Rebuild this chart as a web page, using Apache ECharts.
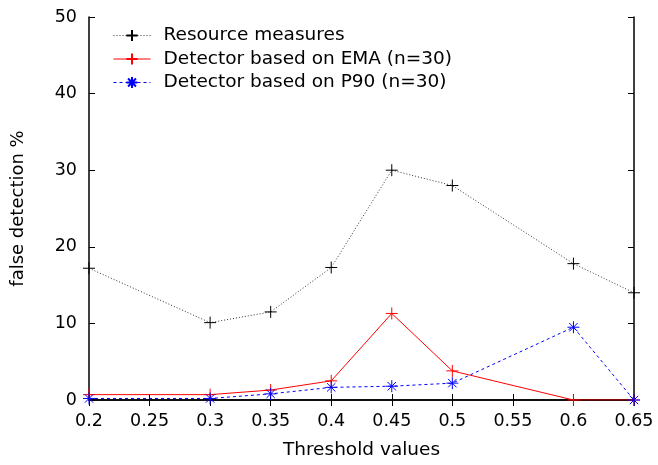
<!DOCTYPE html>
<html>
<head>
<meta charset="utf-8">
<script src="https://cdn.jsdelivr.net/npm/echarts@6/dist/echarts.min.js"></script>
<style>
html,body{margin:0;padding:0;background:#fff;}
#chart{width:658px;height:465px;}
</style>
</head>
<body>
<div id="chart"></div>
<script>
var thresholds = [0.2, 0.3, 0.35, 0.4, 0.45, 0.5, 0.6, 0.65];
var resourceMeasures = [17.2, 10.1, 11.5, 17.3, 30.0, 28.0, 17.8, 14.0];
var detectorEMA = [0.7, 0.7, 1.3, 2.5, 11.3, 3.8, 0.0, 0.0];
var detectorP90 = [0.2, 0.2, 0.8, 1.65, 1.8, 2.2, 9.5, 0.0];
var seriesNames = ['Resource measures', 'Detector based on EMA (n=30)', 'Detector based on P90 (n=30)'];
var xTitle = 'Threshold values';
var yTitle = 'false detection %';

function pairs(xs, ys) { return xs.map(function (x, i) { return [x, ys[i]]; }); }

var FONT = 'DejaVu Sans';
var plusSym = 'path://M5,0L5,10M0,5L10,5';
var starSym = 'path://M5,0L5,10M0,5L10,5M1.5,1.5L8.5,8.5M1.5,8.5L8.5,1.5';

var chart = echarts.init(document.getElementById('chart'), null, {renderer: 'canvas'});
var axisLine = {show: true, lineStyle: {color: '#000', width: 1.5}};
var tick = {show: true, inside: true, length: 6, lineStyle: {color: '#000'}};

chart.setOption({
  animation: false,
  backgroundColor: '#fff',
  textStyle: {fontFamily: FONT},
  grid: {left: 89, right: 24, top: 17, bottom: 64, containLabel: false},
  legend: {
    orient: 'vertical', left: 113, top: 26, padding: 0,
    itemWidth: 37, itemHeight: 14, itemGap: 4.5,
    lineStyle: {width: 1},
    textStyle: {fontFamily: FONT, fontSize: 18.5, color: '#000', lineHeight: 16, padding: [0, 0, 0, 8]},
    data: seriesNames
  },
  xAxis: [{
    type: 'value', min: 0.2, max: 0.65, interval: 0.05,
    name: xTitle, nameLocation: 'middle', nameGap: 41,
    nameTextStyle: {fontFamily: FONT, fontSize: 18.5, color: '#000'},
    axisLine: axisLine, axisTick: tick, splitLine: {show: false},
    axisLabel: {fontFamily: FONT, fontSize: 17.5, color: '#000', margin: 12,
      formatter: function (v) { return String(+v.toFixed(2)); }}
  }, {
    type: 'value', position: 'top', min: 0.2, max: 0.65, interval: 0.05,
    axisLine: axisLine, axisTick: tick, splitLine: {show: false}, axisLabel: {show: false}
  }],
  yAxis: [{
    type: 'value', min: 0, max: 50, interval: 10,
    name: yTitle, nameLocation: 'middle', nameGap: 62, nameRotate: 90,
    nameTextStyle: {fontFamily: FONT, fontSize: 18, color: '#000'},
    axisLine: axisLine, axisTick: tick, splitLine: {show: false},
    axisLabel: {fontFamily: FONT, fontSize: 17.5, color: '#000', margin: 12}
  }, {
    type: 'value', position: 'right', min: 0, max: 50, interval: 10,
    axisLine: axisLine, axisTick: tick, splitLine: {show: false}, axisLabel: {show: false}
  }],
  series: [{
    name: seriesNames[0], type: 'line', data: pairs(thresholds, resourceMeasures),
    symbol: plusSym, symbolSize: 12, showAllSymbol: true,
    itemStyle: {color: '#000', borderColor: '#000', borderWidth: 1},
    lineStyle: {color: '#333', width: 1, type: [1, 2]}
  }, {
    name: seriesNames[1], type: 'line', data: pairs(thresholds, detectorEMA),
    symbol: plusSym, symbolSize: 12, showAllSymbol: true,
    itemStyle: {color: '#ff0000', borderColor: '#ff0000', borderWidth: 1},
    lineStyle: {color: '#ff0000', width: 1, type: 'solid'}
  }, {
    name: seriesNames[2], type: 'line', data: pairs(thresholds, detectorP90),
    symbol: starSym, symbolSize: 12, showAllSymbol: true,
    itemStyle: {color: '#0000ff', borderColor: '#0000ff', borderWidth: 1},
    lineStyle: {color: '#0000ff', width: 1, type: [3, 3]}
  }]
});
</script>
</body>
</html>
